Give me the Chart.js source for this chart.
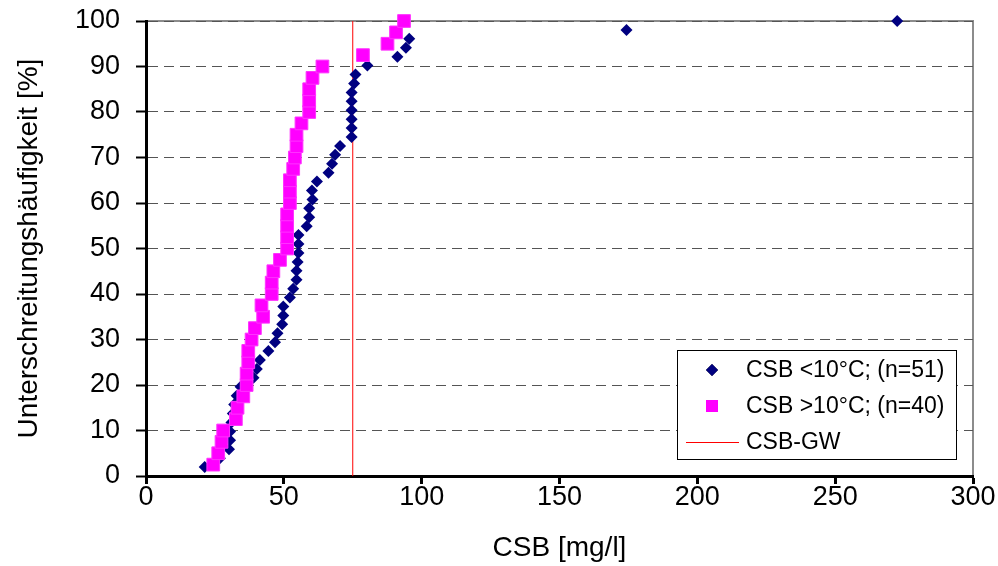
<!DOCTYPE html>
<html>
<head>
<meta charset="utf-8">
<script src="https://cdn.jsdelivr.net/npm/chart.js@4.4.0/dist/chart.umd.min.js"></script>
<style>
body { margin: 0; background: #fff; }
</style>
</head>
<body>
<canvas id="csb_chart" width="998" height="566"></canvas>
<script>
// CSB < 10°C, n=51 (x = CSB, y = Unterschreitungshaeufigkeit)
var csbCold = [21.3, 26.8, 30.1, 30.5, 30.5, 31.0, 31.5, 32.0, 32.9, 34.3,
               39.0, 40.2, 41.3, 44.4, 46.8, 47.7, 49.4, 49.8, 49.8, 52.2,
               53.4, 54.6, 54.6, 55.0, 55.3, 55.3, 55.3, 58.3, 59.2, 59.2,
               60.4, 60.2, 62.0, 66.2, 67.5, 68.6, 70.4, 74.6, 74.6, 74.6,
               74.6, 74.6, 74.6, 75.5, 76.0, 80.3, 91.2, 94.3, 95.5, 174.3, 272.5];
var freqCold = [1.96, 3.92, 5.88, 7.84, 9.80, 11.76, 13.73, 15.69, 17.65, 19.61,
                21.57, 23.53, 25.49, 27.45, 29.41, 31.37, 33.33, 35.29, 37.25, 39.22,
                41.18, 43.14, 45.10, 47.06, 49.02, 50.98, 52.94, 54.90, 56.86, 58.82,
                60.78, 62.75, 64.71, 66.67, 68.63, 70.59, 72.55, 74.51, 76.47, 78.43,
                80.39, 82.35, 84.31, 86.27, 88.24, 90.20, 92.16, 94.12, 96.08, 98.04, 100];

// CSB > 10°C, n=40
var csbWarm = [24.4, 26.2, 27.4, 28.0, 32.6, 33.2, 35.3, 36.5, 36.5, 37.1,
               37.1, 38.3, 39.5, 42.5, 41.9, 45.6, 45.6, 46.2, 48.6, 51.2,
               51.2, 51.2, 51.2, 52.2, 52.2, 52.2, 53.4, 54.0, 54.6, 54.6,
               56.4, 59.2, 59.2, 59.2, 60.4, 64.0, 78.7, 87.6, 90.7, 93.6];
var freqWarm = [2.5, 5, 7.5, 10, 12.5, 15, 17.5, 20, 22.5, 25,
                27.5, 30, 32.5, 35, 37.5, 40, 42.5, 45, 47.5, 50,
                52.5, 55, 57.5, 60, 62.5, 65, 67.5, 70, 72.5, 75,
                77.5, 80, 82.5, 85, 87.5, 90, 92.5, 95, 97.5, 100];

// Grenzwert
var csbLimit = [75, 75];
var limitRange = [0, 100];

var seriesLabels = ["CSB <10°C; (n=51)", "CSB >10°C; (n=40)", "CSB-GW"];

function toPoints(xs, ys) {
    var pts = [];
    for (var i = 0; i < xs.length; i++) pts.push({x: xs[i], y: ys[i]});
    return pts;
}

var fontName = "'Liberation Sans', Arial, sans-serif";

// grey frame top/right, drawn under the grid
var framePlugin = {
    id: 'frame',
    beforeDraw: function(chart) {
        var a = chart.chartArea, c = chart.ctx;
        c.save();
        c.strokeStyle = '#8c8c8c';
        c.lineWidth = 2;
        c.beginPath();
        c.moveTo(a.left, a.top);
        c.lineTo(a.right, a.top);
        c.lineTo(a.right, a.bottom);
        c.stroke();
        c.restore();
    }
};

// legend box inside the plot, lower right
var boxLegend = {
    id: 'boxLegend',
    afterDraw: function(chart) {
        var c = chart.ctx;
        var bx = 677, by = 350, bw = 279, bh = 109;
        c.save();
        c.fillStyle = '#fff';
        c.fillRect(bx, by, bw, bh);
        c.strokeStyle = '#000';
        c.lineWidth = 1;
        c.strokeRect(bx + 0.5, by + 0.5, bw, bh);
        c.font = "23px " + fontName;
        c.textBaseline = 'middle';
        c.fillStyle = '#000';
        var rows = [370, 406, 442];
        chart.data.datasets.forEach(function(ds, i) {
            var y = rows[i];
            if (i === 0) {
                Chart.helpers.drawPoint(c, {pointStyle: 'rectRot', radius: 6, borderWidth: 0}, 712, y);
                c.fillStyle = ds.backgroundColor; c.fill();
            } else if (i === 1) {
                c.fillStyle = ds.backgroundColor;
                c.fillRect(706, y - 6, 12, 12);
            } else {
                c.strokeStyle = ds.borderColor;
                c.lineWidth = 1;
                c.beginPath(); c.moveTo(686, y + 0.5); c.lineTo(739, y + 0.5); c.stroke();
            }
            c.fillStyle = '#000';
            c.fillText(ds.label, 746, y + 1);
        });
        c.restore();
    }
};

var ctx = document.getElementById('csb_chart').getContext('2d');
var chart = new Chart(ctx, {
    type: 'scatter',
    data: {
        datasets: [{
            label: seriesLabels[0],
            data: toPoints(csbCold, freqCold),
            backgroundColor: '#000080',
            borderColor: '#000080',
            pointStyle: 'rectRot',
            pointRadius: 6,
            borderWidth: 0,
            clip: false,
            order: 1
        }, {
            label: seriesLabels[1],
            data: toPoints(csbWarm, freqWarm),
            backgroundColor: '#ff00ff',
            borderColor: '#ff33ff',
            pointStyle: 'rect',
            pointRadius: 9,
            borderWidth: 1,
            clip: false,
            order: 0
        }, {
            label: seriesLabels[2],
            type: 'line',
            data: toPoints(csbLimit, limitRange),
            borderColor: '#ff0000',
            borderWidth: 1,
            pointRadius: 0,
            showLine: true,
            fill: false,
            order: 2
        }]
    },
    options: {
        responsive: false,
        animation: false,
        layout: { padding: { top: 21, right: 25, left: 0, bottom: 0 } },
        plugins: {
            legend: { display: false },
            tooltip: { enabled: false }
        },
        scales: {
            x: {
                type: 'linear',
                min: 0, max: 300,
                ticks: { stepSize: 50, color: '#000', padding: -3, font: { family: fontName, size: 27 } },
                grid: { drawOnChartArea: false, drawTicks: true, tickLength: 8, tickColor: '#000', tickWidth: 3 },
                border: { display: true, color: '#000', width: 3 },
                title: { display: true, text: 'CSB [mg/l]', color: '#000', padding: { top: 0, bottom: 1 },
                         font: { family: fontName, size: 28 } },
                afterFit: function(s) { s.height = 90; s.paddingLeft = 0; s.paddingRight = 0; }
            },
            y: {
                min: 0, max: 100,
                ticks: { stepSize: 10, color: '#000', padding: 16, font: { family: fontName, size: 27 } },
                grid: { color: '#555', lineWidth: 1, tickLength: 10, tickColor: '#000', tickWidth: 2 },
                border: { display: true, color: '#000', width: 3, dash: [10, 6] },
                title: { display: true, text: 'Unterschreitungshäufigkeit [%]', color: '#000', padding: { top: 12, bottom: 0 },
                         font: { family: fontName, size: 28 } },
                afterFit: function(s) { s.width = 146; s.paddingTop = 0; s.paddingBottom = 0; }
            }
        }
    },
    plugins: [framePlugin, boxLegend]
});
</script>
</body>
</html>
